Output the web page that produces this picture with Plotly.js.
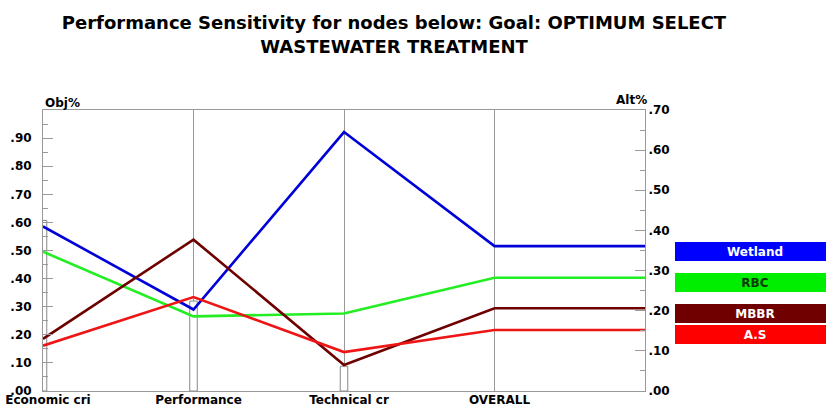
<!DOCTYPE html>
<html>
<head>
<meta charset="utf-8">
<script src="https://cdn.plot.ly/plotly-3.0.1.min.js"></script>
<style>html,body{margin:0;padding:0;background:#fff;}#chart{width:826px;height:408px;}</style>
</head>
<body>
<div id="chart"></div>
<script>
// Criteria (x axis) and criterion weights (Obj%)
const categories = ["Economic cri", "Performance", "Technical cr", "OVERALL"];
const objWeights = [0.607, 0.32, 0.088];

// Alternative priorities (Alt%) per criterion, then OVERALL
const altNames = ["Wetland", "RBC", "MBBR", "A.S"];
const wetland = [0.410, 0.203, 0.645, 0.361];
const rbc     = [0.347, 0.186, 0.193, 0.282];
const mbbr    = [0.130, 0.377, 0.065, 0.206];
const as      = [0.113, 0.234, 0.097, 0.152];

// Tick labels
const objTickVals = [0, 0.1, 0.2, 0.3, 0.4, 0.5, 0.6, 0.7, 0.8, 0.9];
const objTickText = [".00", ".10", ".20", ".30", ".40", ".50", ".60", ".70", ".80", ".90"];
const altTickVals = [0, 0.1, 0.2, 0.3, 0.4, 0.5, 0.6, 0.7];
const altTickText = [".00", ".10", ".20", ".30", ".40", ".50", ".60", ".70"];

const lineColors = ["#0000d8", "#22ee22", "#6e0000", "#ee1515"];
const boxColors = ["#0000ff", "#00ee00", "#700000", "#ff0000"];
const boxTextColors = ["#ffffff", "#0a3a0a", "#ffffff", "#ffffff"];
const series = [wetland, rbc, mbbr, as];

const F = "DejaVu Sans";
const traces = [];
traces.push({
  type: "bar", x: [0, 1, 2], y: objWeights, yaxis: "y", width: 0.05,
  marker: {color: "#ffffff", line: {color: "#888888", width: 1}},
  hoverinfo: "skip", showlegend: false
});
series.forEach((s, i) => {
  // last point (OVERALL) is extended flat to the right edge
  traces.push({
    type: "scatter", mode: "lines", yaxis: "y2",
    x: [0, 1, 2, 3, 4], y: s.concat([s[3]]),
    line: {color: lineColors[i], width: 2.6},
    name: altNames[i], showlegend: false, hoverinfo: "skip"
  });
});

const annotations = [
  {xref: "paper", yref: "paper", x: 0, y: 1, xanchor: "left", yanchor: "bottom", yshift: -2,
   text: "Obj%", showarrow: false, font: {family: F, size: 12, weight: "bold", color: "#000"}},
  {xref: "paper", yref: "paper", x: 1, y: 1, xanchor: "right", yanchor: "bottom", yshift: 1, xshift: 4,
   text: "Alt%", showarrow: false, font: {family: F, size: 12, weight: "bold", color: "#000"}}
];
series.forEach((s, i) => {
  annotations.push({
    xref: "paper", yref: "y2", x: 1.0498, y: s[3], xanchor: "left", yanchor: "middle", yshift: -5,
    text: altNames[i], showarrow: false, width: 160, height: 19, align: "center",
    bgcolor: boxColors[i], borderpad: 0, borderwidth: 0,
    font: {family: F, size: 12, weight: "bold", color: boxTextColors[i]}
  });
});

const layout = {
  width: 826, height: 408,
  margin: {l: 43, r: 181, t: 110, b: 17},
  paper_bgcolor: "#ffffff", plot_bgcolor: "#ffffff",
  title: {
    text: "Performance Sensitivity for nodes below: Goal: OPTIMUM SELECT<br>WASTEWATER TREATMENT",
    font: {family: F, size: 18, weight: "bold", color: "#000"},
    x: 0.477, xref: "container", xanchor: "center",
    y: 0.928, yref: "container", yanchor: "top"
  },
  xaxis: {
    range: [0, 4], tickvals: [0, 1, 2, 3], ticktext: categories,
    showgrid: true, gridcolor: "#999999", gridwidth: 1,
    showline: true, mirror: true, linecolor: "#999999", linewidth: 1,
    ticks: "", zeroline: false, fixedrange: true, ticklabelshift: 5, ticklabelstandoff: -2,
    tickfont: {family: F, size: 12, weight: "bold", color: "#000"}
  },
  yaxis: {
    range: [0, 1], tickvals: objTickVals, ticktext: objTickText,
    ticks: "inside", ticklen: 10, tickcolor: "#999999",
    minor: {tickmode: "linear", tick0: 0, dtick: 0.05, ticks: "inside", ticklen: 5, tickcolor: "#999999", showgrid: false},
    showline: true, linecolor: "#999999", showgrid: false, zeroline: false, fixedrange: true,
    ticklabelstandoff: 8,
    tickfont: {family: F, size: 12, weight: "bold", color: "#000"}
  },
  yaxis2: {
    overlaying: "y", side: "right",
    range: [0, 0.7], tickvals: altTickVals, ticktext: altTickText,
    ticks: "inside", ticklen: 10, tickcolor: "#999999",
    minor: {tickmode: "linear", tick0: 0, dtick: 0.05, ticks: "inside", ticklen: 5, tickcolor: "#999999", showgrid: false},
    showline: true, linecolor: "#999999", showgrid: false, zeroline: false, fixedrange: true,
    tickfont: {family: F, size: 12, weight: "bold", color: "#000"}
  },
  annotations: annotations,
  showlegend: false
};

Plotly.newPlot("chart", traces, layout, {displayModeBar: false, staticPlot: true});
</script>
</body>
</html>
